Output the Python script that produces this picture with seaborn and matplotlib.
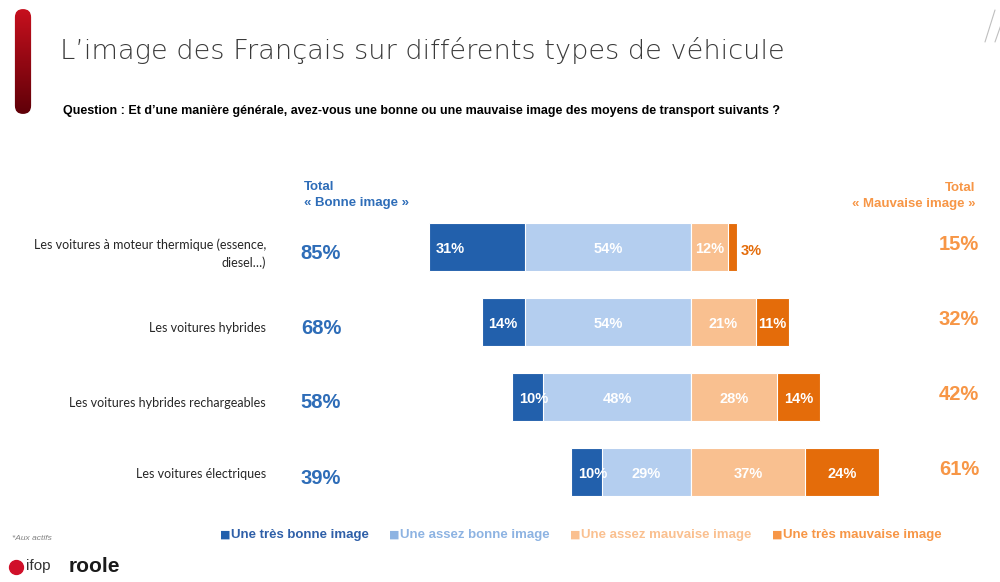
import numpy as np
import pandas as pd
import matplotlib
matplotlib.use('Agg')
import matplotlib.pyplot as plt
import matplotlib.transforms as mtransforms
from matplotlib.patches import FancyBboxPatch
from matplotlib.lines import Line2D
import seaborn as sns

# data
categories = ['Les voitures à moteur thermique (essence,\ndiesel…)',
              'Les voitures hybrides',
              'Les voitures hybrides rechargeables',
              'Les voitures électriques']
tres_bonne = [31, 14, 10, 10]
assez_bonne = [54, 54, 48, 29]
assez_mauvaise = [12, 21, 28, 37]
tres_mauvaise = [3, 11, 14, 24]
total_bonne = [85, 68, 58, 39]
total_mauvaise = [15, 32, 42, 61]
legend_labels = ['Une très bonne image', 'Une assez bonne image',
                 'Une assez mauvaise image', 'Une très mauvaise image']

c_dark_blue = '#2260AC'
c_light_blue = '#B4CEEF'
c_light_orange = '#F9C090'
c_dark_orange = '#E46C0A'
c_tot_blue = '#2E6DB8'
c_tot_orange = '#F79646'
legend_text_colors = ['#2E5FA8', '#8DB3E2', '#FAC090', '#F79646']
legend_box_colors = ['#2260AC', '#8DB3E2', '#FAC090', '#F79646']

sns.set_theme(style='white')
plt.rcParams['font.family'] = ['Liberation Sans', 'DejaVu Sans']

fig = plt.figure(figsize=(10, 5.82), dpi=100)
W, H = 1000, 582


def fx(px):
    return px / W


def fy(py):
    return 1 - py / H


ax = fig.add_axes([0.40, fy(509.5), 0.50, 300 / H])

left_total = [-(a + b) for a, b in zip(tres_bonne, assez_bonne)]
right_total = [a + b for a, b in zip(assez_mauvaise, tres_mauvaise)]
neg_assez = [-v for v in assez_bonne]

bar_kw = dict(orient='h', width=0.65, saturation=1, edgecolor='white', linewidth=0.8, ax=ax)
sns.barplot(x=left_total, y=categories, color=c_dark_blue, **bar_kw)
sns.barplot(x=neg_assez, y=categories, color=c_light_blue, **bar_kw)
sns.barplot(x=right_total, y=categories, color=c_dark_orange, **bar_kw)
sns.barplot(x=assez_mauvaise, y=categories, color=c_light_orange, **bar_kw)

ax.set_xlim(-94.5, 67.9)
ax.set_ylim(3.5, -0.5)
ax.axis('off')

lab_kw = dict(color='white', fontsize=10.5, fontweight='bold', va='center')
for i in range(len(categories)):
    ax.text(left_total[i] + 2.2, i + 0.03, f'{tres_bonne[i]}%', ha='left', **lab_kw)
    ax.text(-assez_bonne[i] / 2, i + 0.03, f'{assez_bonne[i]}%', ha='center', **lab_kw)
    ax.text(assez_mauvaise[i] / 2, i + 0.03, f'{assez_mauvaise[i]}%', ha='center', **lab_kw)
    if tres_mauvaise[i] < 5:
        ax.text(right_total[i] + 1.3, i + 0.05, f'{tres_mauvaise[i]}%', ha='left',
                color=c_dark_orange, fontsize=10.5, fontweight='bold', va='center')
    else:
        ax.text(assez_mauvaise[i] + tres_mauvaise[i] / 2, i + 0.03, f'{tres_mauvaise[i]}%',
                ha='center', **lab_kw)

# category names and totals, x in figure, y in data rows
tr = mtransforms.blended_transform_factory(fig.transFigure, ax.transData)
cat_offsets = [0.09, 0.08, 0.08, 0.02]
for i, cat in enumerate(categories):
    ax.text(fx(266), i + cat_offsets[i], cat, transform=tr, ha='right', va='center',
            fontsize=9, color='#262626', family=['Lato', 'DejaVu Sans'], linespacing=1.55)
    ax.text(fx(321), i + 0.08, f'{total_bonne[i]}%', transform=tr, ha='center', va='center',
            fontsize=14.5, fontweight='bold', color=c_tot_blue)
    ax.text(fx(979), i - 0.03, f'{total_mauvaise[i]}%', transform=tr, ha='right', va='center',
            fontsize=14.5, fontweight='bold', color=c_tot_orange)

# column headers
fig.text(fx(304), fy(195), 'Total\n« Bonne image »', ha='left', va='center',
         fontsize=9.5, fontweight='bold', color=c_tot_blue, linespacing=1.35)
fig.text(fx(975), fy(196), 'Total\n« Mauvaise image »', ha='right', va='center',
         fontsize=9.5, fontweight='bold', color=c_tot_orange, linespacing=1.35,
         multialignment='right')

# titles
fig.text(fx(60), fy(50), 'L\u2019image des Français sur différents types de véhicule',
         ha='left', va='center', fontsize=19.6, color='#3A3A3A',
         family=['DejaVu Sans'], fontweight='light')
fig.text(fx(63), fy(111), 'Question : Et d\u2019une manière générale, avez-vous une bonne ou une '
         'mauvaise image des moyens de transport suivants ?',
         ha='left', va='center', fontsize=9, fontweight='bold', color='black')

# legend
leg_x = [220, 389, 570, 772]
for x0, lab, tc, bc in zip(leg_x, legend_labels, legend_text_colors, legend_box_colors):
    fig.text(fx(x0), fy(535), '\u25A0', ha='left', va='center', fontsize=8, color=bc,
             family=['DejaVu Sans'])
    fig.text(fx(x0 + 11), fy(535), lab, ha='left', va='center', fontsize=9.5,
             fontweight='bold', color=tc)

fig.text(fx(12), fy(538), '*Aux actifs', ha='left', va='center', fontsize=6,
         style='italic', color='#808080')

# red side bar with gradient
bar_ax = fig.add_axes([fx(14), fy(115), fx(18), 107 / H])
grad = np.linspace(0, 1, 256).reshape(-1, 1)
cmap = matplotlib.colors.LinearSegmentedColormap.from_list('redbar', ['#C8101E', '#5E0008'])
im = bar_ax.imshow(grad, aspect='auto', cmap=cmap, extent=(0, 1, 1, 0))
clip = FancyBboxPatch((0.05, 0.01), 0.9, 0.98, boxstyle='round,pad=0,rounding_size=0.45',
                      transform=bar_ax.transAxes, facecolor='none', edgecolor='none',
                      mutation_aspect=0.17)
bar_ax.add_patch(clip)
im.set_clip_path(clip)
bar_ax.axis('off')

# thin lines top right
for (x1, y1, x2, y2) in [(985, 42, 995, 10), (995, 42, 1002, 22)]:
    fig.add_artist(Line2D([fx(x1), fx(x2)], [fy(y1), fy(y2)], color='#BFBFBF', lw=0.8))

# logos as text
fig.add_artist(Line2D([fx(16)], [fy(567)], marker='o', ms=10, color='#D0102A',
                      transform=fig.transFigure))
fig.text(fx(26), fy(566), 'ifop', ha='left', va='center', fontsize=11, color='#333333')
fig.text(fx(69), fy(567), 'roole', ha='left', va='center', fontsize=15,
         fontweight='bold', color='#1A1A1A')

fig.savefig('out.png', dpi=100)
